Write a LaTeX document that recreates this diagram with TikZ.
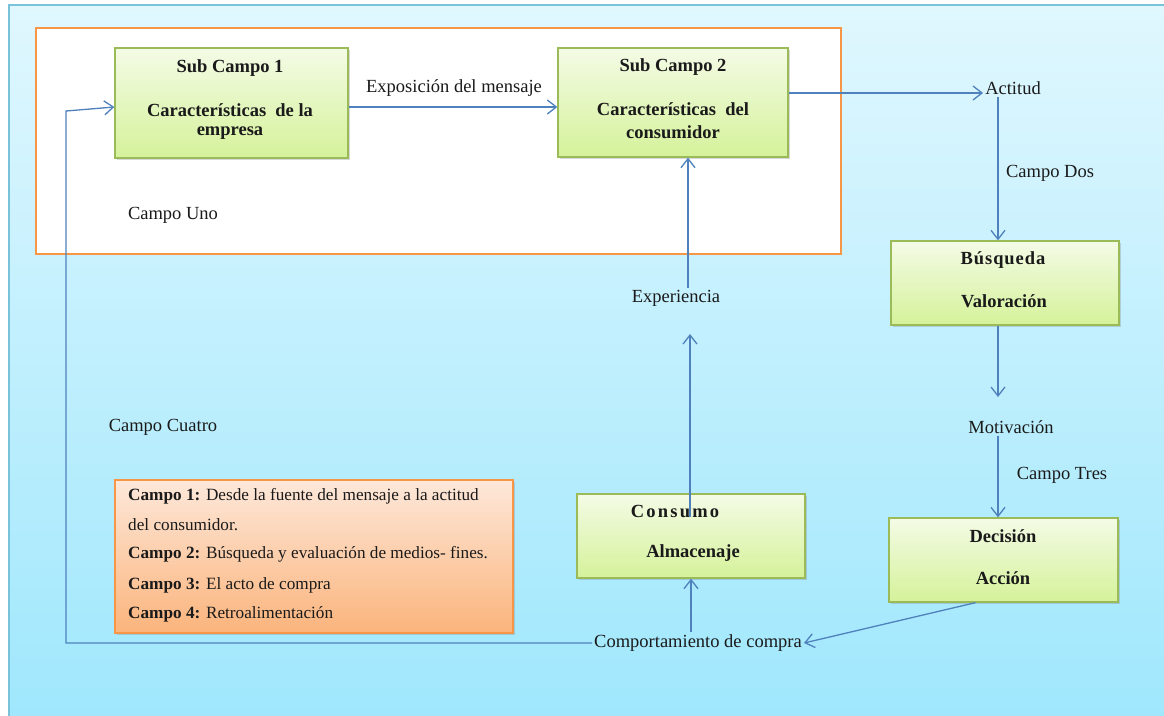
\documentclass[tikz,border=0pt]{standalone}
\usepackage{fontspec}
\setmainfont{Liberation Serif}
\usetikzlibrary{arrows.meta,shadows}
\definecolor{bgtop}{HTML}{E0F7FE}
\definecolor{bgbot}{HTML}{9FE7FD}
\definecolor{bgedge}{HTML}{79C3DA}
\definecolor{frameor}{HTML}{F79646}
\definecolor{boxtop}{HTML}{F4FBE6}
\definecolor{boxbot}{HTML}{D5F29A}
\definecolor{boxedge}{HTML}{9BBB59}
\definecolor{legtop}{HTML}{FDE8DA}
\definecolor{legbot}{HTML}{FBB47C}
\definecolor{flow}{HTML}{4F81BD}
\definecolor{ink}{HTML}{1A1A1A}

\begin{document}
\begin{tikzpicture}[x=1pt,y=-1pt,
  stage/.style={draw=boxedge, line width=1.3pt, top color=boxtop, bottom color=boxbot,
    inner sep=0pt, drop shadow={opacity=0.3, shadow xshift=2pt, shadow yshift=-2pt}},
  legendbox/.style={draw=frameor, line width=1.3pt, top color=legtop, bottom color=legbot,
    inner sep=0pt, drop shadow={opacity=0.3, shadow xshift=2pt, shadow yshift=-2pt}},
  lbl/.style={font=\fontsize{18.5}{22}\selectfont, text=ink, inner sep=2pt},
  ttl/.style={font=\fontsize{18.5}{22}\selectfont\bfseries, text=ink, inner sep=2pt},
  legline/.style={font=\fontsize{17.2}{20}\selectfont, text=ink, anchor=base west, inner sep=0pt},
  link/.style={draw=flow, line width=1.3pt},
  arr/.style={link, -{Straight Barb[length=9pt,width=14pt]}}]

\useasboundingbox (0,0) rectangle (1164,715);

% background panel
\shade[top color=bgtop, bottom color=bgbot] (9,5) rectangle (1175,725);
\draw[bgedge, line width=1.5pt] (1175,5) -- (9,5) -- (9,725);

% field one frame
\draw[frameor, line width=2.5pt, fill=white] (36,28) rectangle (841,254);

% stage boxes
\node[stage, minimum width=233pt, minimum height=110pt] (sc1) at (231.5,103) {};
\node[stage, minimum width=230pt, minimum height=109pt] (sc2) at (673,102.5) {};
\node[stage, minimum width=228pt, minimum height=84pt] (busq) at (1005,283) {};
\node[stage, minimum width=228pt, minimum height=84pt] (cons) at (691,536) {};
\node[stage, minimum width=229pt, minimum height=84pt] (dec) at (1003.5,560) {};
\node[legendbox, minimum width=398pt, minimum height=153pt] (leg) at (314,556.5) {};

% box texts
\node[ttl] (sc1t) at (230,68) {Sub Campo 1};
\node[ttl] (sc1u) at (230,110) {Características\ \ de la};
\node[ttl] (sc1v) at (230,133) {empresa};
\node[ttl] (sc2t) at (673,67) {Sub Campo 2};
\node[ttl] (sc2u) at (673,109) {Características\ \ del};
\node[ttl] (sc2v) at (673,132) {consumidor};
\node[ttl] (busqt) at (1003,260) {\addfontfeature{LetterSpace=5}Búsqueda};
\node[ttl] (busqu) at (1004,301) {Valoración};
\node[ttl] (const) at (675,511) {\addfontfeature{LetterSpace=12}Consumo};
\node[ttl] (consu) at (693,553) {Almacenaje};
\node[ttl] (dect) at (1003,536) {Decisión};
\node[ttl] (decu) at (1003,578) {Acción};

% legend
\node[legline] (l1) at (128,500) {\textbf{Campo 1:} Desde la fuente del mensaje a la actitud};
\node[legline] (l2) at (128,530) {del consumidor.};
\node[legline] (l3) at (128,558) {\textbf{Campo 2:} Búsqueda y evaluación de medios- fines.};
\node[legline] (l4) at (128,589) {\textbf{Campo 3:} El acto de compra};
\node[legline] (l5) at (128,618) {\textbf{Campo 4:} Retroalimentación};

% free labels
\node[lbl] (expo) at (454,88) {Exposición del mensaje};
\node[lbl] (act) at (1013,88) {Actitud};
\node[lbl] (dos) at (1050,173) {Campo Dos};
\node[lbl] (mot) at (1011,427) {Motivación};
\node[lbl] (tres) at (1062,475) {Campo Tres};
\node[lbl] (exp) at (676,298) {Experiencia};
\node[lbl] (comp) at (698,643) {Comportamiento de compra};
\node[lbl] (uno) at (173,215) {Campo Uno};
\node[lbl] (cuatro) at (163,427) {Campo Cuatro};

% turning points of the connectors
\coordinate (motin) at (998,397);
\coordinate (expin) at (690,334);
\coordinate (fbbot) at (66,643);
\coordinate (fbtop) at (66,111);

% connectors
\draw[arr] ([yshift=-4pt]sc1.east) -- ([yshift=-4pt]sc1.east -| sc2.west);
\draw[arr] ([yshift=9.5pt]sc2.east) -- ([yshift=9.5pt]sc2.east -| act.west);
\draw[arr] ([xshift=-15pt]act.south) -- ([xshift=-7pt]busq.north);
\draw[arr] ([xshift=-7pt]busq.south) -- (motin);
\draw[arr] ([xshift=-13pt]mot.south) -- ([xshift=-5.5pt]dec.north);
\draw[arr] ([xshift=-28pt]dec.south) -- (comp.east);
\draw[arr] (comp.north -| cons.south) -- (cons.south);
\draw[arr] ([yshift=-24pt]cons.north -| expin) -- (expin);
\draw[arr] ([xshift=12pt]exp.north) -- ([xshift=12pt]exp.north |- sc2.south);
\draw[arr] (comp.west) -- (fbbot) -- (fbtop) -- ([yshift=-4pt]sc1.west);

\end{tikzpicture}
\end{document}
